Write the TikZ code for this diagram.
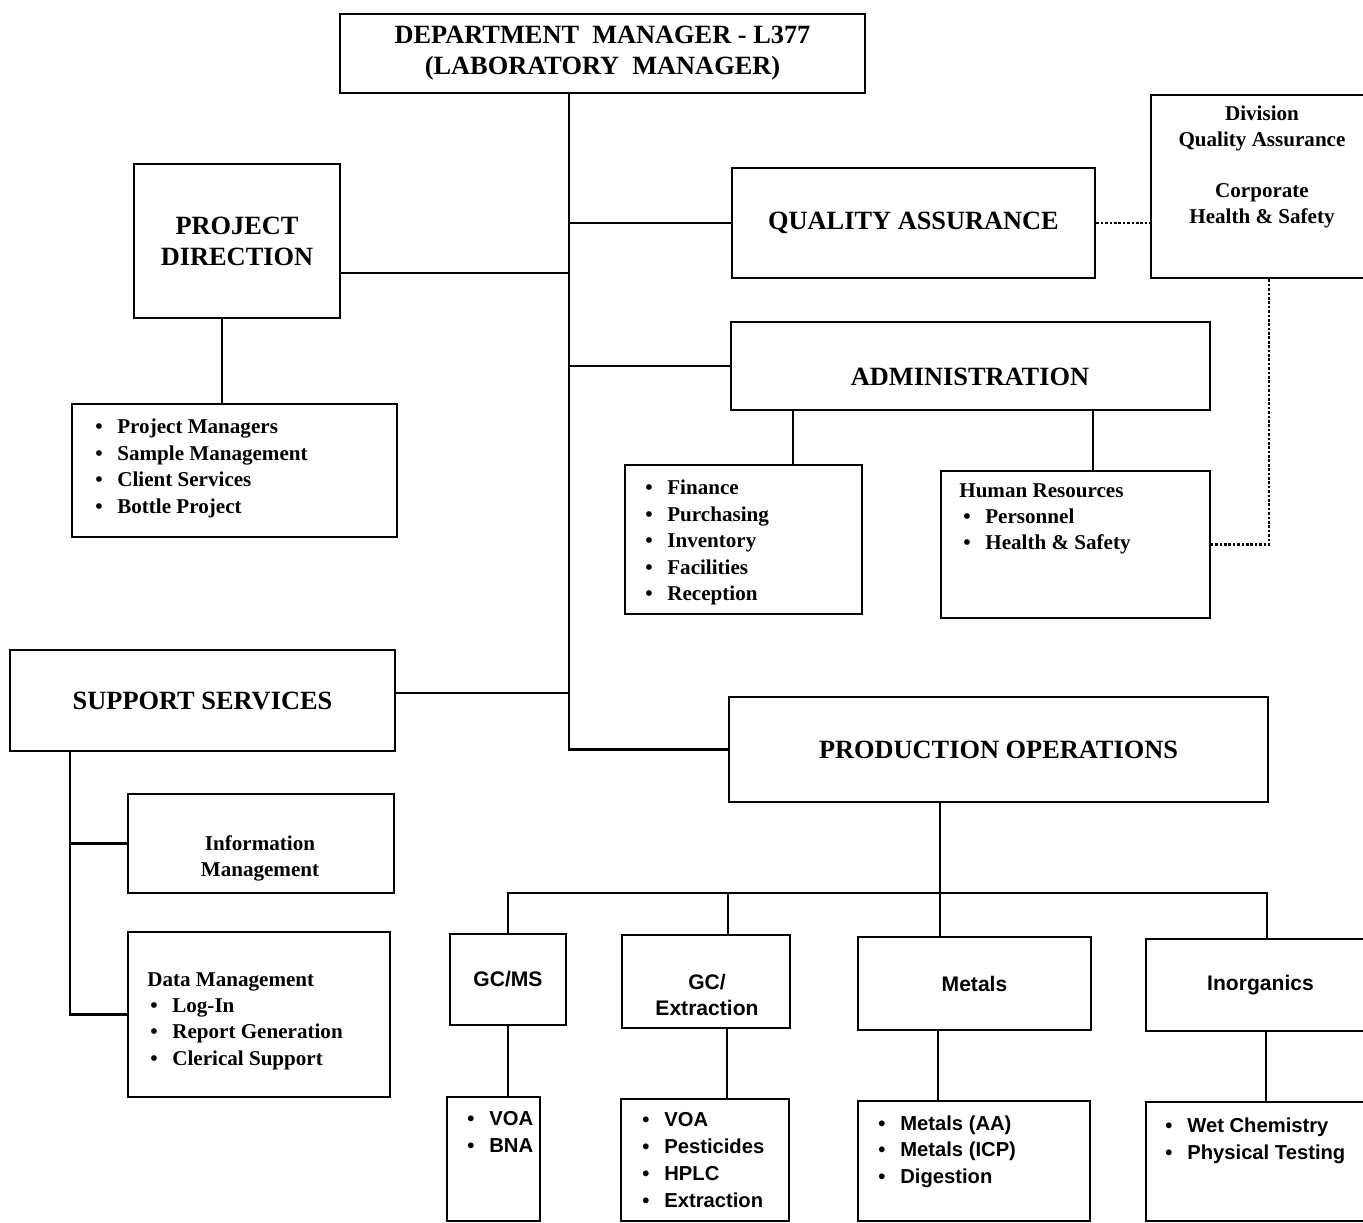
\documentclass[tikz,border=0pt]{standalone}
\usepackage{fontspec}
\setmainfont{Liberation Serif}
\newfontfamily\labsans{Liberation Sans}
\usepackage{tikz}
\tikzstyle{box} = [rectangle, draw, line width=1.6pt, inner sep=0pt, align=center]
\tikzstyle{big} = [font=\bfseries\fontsize{15}{17.6}\selectfont]
\tikzstyle{small} = [font=\bfseries\fontsize{12}{14.7}\selectfont]
\tikzstyle{lab} = [font=\labsans\bfseries\fontsize{12}{15.3}\selectfont]
\tikzstyle{list} = [inner sep=0pt, anchor=north west, align=left, font=\bfseries\fontsize{12}{15}\selectfont]
\tikzstyle{lablist} = [list, font=\labsans\bfseries\fontsize{11.5}{15.3}\selectfont]
\tikzstyle{line} = [draw, line width=1.6pt, line cap=rect]
\tikzstyle{dotline} = [draw, line width=1.4pt, dash pattern=on 1.5pt off 1pt]
\newcommand{\bul}{\makebox[0.44cm][l]{\textbullet}}
\begin{document}
\begin{tikzpicture}[x=0.02cm,y=-0.02cm]
  \useasboundingbox (0,0) rectangle (1363,1223);
  % top and left branch
  \node [box, big, minimum width=10.5cm, minimum height=1.58cm] (mgr) at (602.5,53.5) {DEPARTMENT\ \ MANAGER - L377\\(LABORATORY\ \ MANAGER)};
  \node [box, big, minimum width=4.12cm, minimum height=3.08cm] (projdir) at (237,241) {PROJECT\\DIRECTION};
  \node [box, minimum width=6.5cm, minimum height=2.66cm] (projlist) at (234.5,470.5) {};
  \node [list] (projtxt) at (95,419) {\bul Project Managers\\\bul Sample Management\\\bul Client Services\\\bul Bottle Project};
  \node [box, big, minimum width=7.7cm, minimum height=2.02cm] (support) at (202.5,700.5) {SUPPORT SERVICES};
  \node [box, minimum width=5.32cm, minimum height=1.98cm] (info) at (261,843.5) {};
  \node [small, align=center] (infotxt) at (260,858) {Information\\Management};
  \node [box, minimum width=5.24cm, minimum height=3.3cm] (datamgmt) at (259,1014.5) {};
  \node [list] (datatxt) at (147,972) {Data Management\\\hspace{0.06cm}\bul Log-In\\\hspace{0.06cm}\bul Report Generation\\\hspace{0.06cm}\bul Clerical Support};

  % right branch
  \node [box, big, minimum width=7.26cm, minimum height=2.2cm] (qa) at (913.5,223) {QUALITY ASSURANCE};
  \node [box, minimum width=4.48cm, minimum height=3.66cm] (divqa) at (1263,186.5) {};
  \node [small, align=center] (divqatxt) at (1262,167) {Division\\Quality Assurance\\[14.7pt]Corporate\\Health \& Safety};
  \node [box, minimum width=9.58cm, minimum height=1.76cm] (admin) at (970.5,366) {};
  \node [big] (admintxt) at (970,377) {ADMINISTRATION};
  \node [box, minimum width=4.74cm, minimum height=2.98cm] (finlist) at (743.5,539.5) {};
  \node [list] (fintxt) at (645,480) {\bul Finance\\\bul Purchasing\\\bul Inventory\\\bul Facilities\\\bul Reception};
  \node [box, minimum width=5.38cm, minimum height=2.94cm] (hr) at (1075.5,544.5) {};
  \node [list] (hrtxt) at (959,483) {Human Resources\\\hspace{0.08cm}\bul Personnel\\\hspace{0.08cm}\bul Health \& Safety};

  % production
  \node [box, big, minimum width=10.78cm, minimum height=2.1cm] (prodops) at (998.5,749.5) {PRODUCTION OPERATIONS};
  \node [box, lab, minimum width=2.32cm, minimum height=1.82cm] (gcms) at (508,979.5) {GC/MS};
  \node [box, minimum width=3.36cm, minimum height=1.86cm] (gcext) at (706,981.5) {};
  \node [lab, align=center] (gcexttxt) at (707,995) {GC/\\Extraction};
  \node [box, lab, minimum width=4.66cm, minimum height=1.86cm] (metals) at (974.5,983.5) {Metals};
  \node [box, lab, minimum width=4.58cm, minimum height=1.84cm] (inorg) at (1260.5,985) {Inorganics};
  \node [box, minimum width=1.86cm, minimum height=2.48cm] (gcmslist) at (493.5,1159) {};
  \node [lablist] (gcmstxt) at (467,1111) {\bul VOA\\\bul BNA};
  \node [box, minimum width=3.36cm, minimum height=2.44cm] (gcextlist) at (705,1160) {};
  \node [lablist] (gcextlisttxt) at (642,1112) {\bul VOA\\\bul Pesticides\\\bul HPLC\\\bul Extraction};
  \node [box, minimum width=4.64cm, minimum height=2.4cm] (metlist) at (974,1161) {};
  \node [lablist] (mettxt) at (878,1115) {\bul Metals (AA)\\\bul Metals (ICP)\\\bul Digestion};
  \node [box, minimum width=4.58cm, minimum height=2.38cm] (inorglist) at (1260.5,1161.5) {};
  \node [lablist] (inorgtxt) at (1165,1118) {\bul Wet Chemistry\\\bul Physical Testing};

  \coordinate (trunk) at (569,749.5);
  \coordinate (sdrop) at ([xshift=-2.65cm]support.south);
  \coordinate (bus) at (940,893);

  \path [line] (mgr.south -| trunk) -- (trunk) -- (prodops.west);
  \path [line] ([yshift=-0.64cm]projdir.east) -- ([yshift=-0.64cm]projdir.east -| trunk);
  \path [line] (qa.west) -- (qa.west -| trunk);
  \path [line] (admin.west) -- (admin.west -| trunk);
  \path [line] ([yshift=0.15cm]support.east) -- ([yshift=0.15cm]support.east -| trunk);
  \path [line] ([xshift=-0.3cm]projdir.south) -- ([xshift=-0.3cm]projdir.south |- projlist.north);
  \path [line] ([xshift=0.99cm]finlist.north) -- ([xshift=0.99cm]finlist.north |- admin.south);
  \path [line] ([xshift=0.35cm]hr.north) -- ([xshift=0.35cm]hr.north |- admin.south);
  \path [dotline] (qa.east) -- (qa.east -| divqa.west);
  \path [dotline] ([xshift=0.12cm]divqa.south) |- (hr.east);

  \path [line] (sdrop) |- (datamgmt.west);
  \path [line] (info.west) -- (info.west -| sdrop);

  \path [line] (prodops.south -| bus) -- (bus);
  \path [line] (gcms.north) |- (bus) -| ([xshift=0.13cm]inorg.north);
  \path [line] (metals.north -| bus) -- (bus);
  \path [line] ([xshift=0.44cm]gcext.north) -- ([xshift=0.44cm]gcext.north |- bus);
  \path [line] (gcms.south) -- (gcms.south |- gcmslist.north);
  \path [line] ([xshift=0.42cm]gcext.south) -- ([xshift=0.42cm]gcext.south |- gcextlist.north);
  \path [line] ([xshift=-0.73cm]metals.south) -- ([xshift=-0.73cm]metals.south |- metlist.north);
  \path [line] ([xshift=0.11cm]inorg.south) -- ([xshift=0.11cm]inorg.south |- inorglist.north);
\end{tikzpicture}
\end{document}
